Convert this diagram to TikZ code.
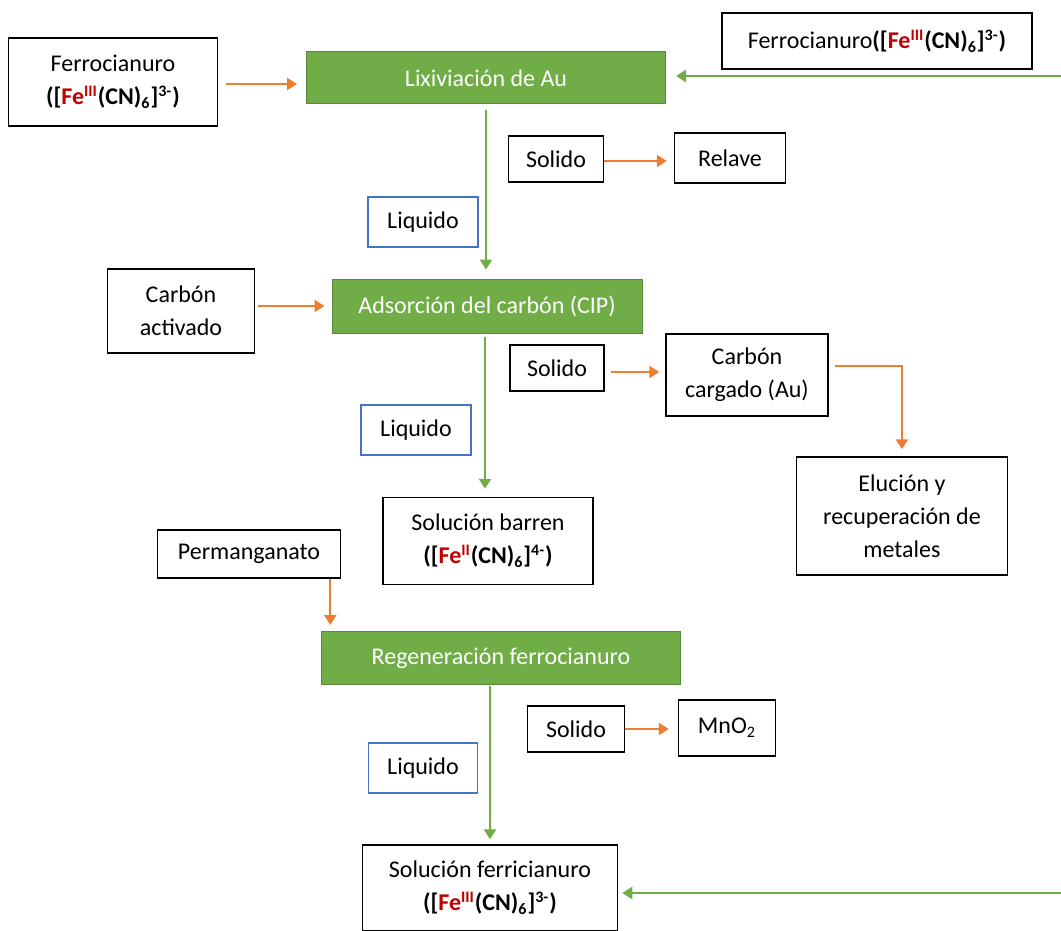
\documentclass[tikz,border=0pt]{standalone}
\usepackage{fontspec}
\setmainfont{Carlito}
\usepackage{tikz}
\usepackage{xcolor}
\usetikzlibrary{arrows.meta,positioning,calc}
\definecolor{procgreen}{HTML}{70AD47}
\definecolor{feedorange}{HTML}{ED7D31}
\definecolor{liqblue}{HTML}{4472C4}
\definecolor{fered}{HTML}{C00000}
\newcommand{\fecn}[2]{\textbf{([\textcolor{fered}{Fe\textsuperscript{#1}}(CN)\textsubscript{6}]\textsuperscript{#2})}}
\tikzset{
  stagecard/.style={
    draw=procgreen!80!black, fill=procgreen, line width=0.5pt,
    text=white, align=center, inner sep=0pt
  },
  notecard/.style={
    draw=black, fill=white, line width=0.75pt,
    align=center, inner sep=0pt
  },
  liquidcard/.style={
    draw=liqblue, fill=white, line width=0.6pt,
    align=center, inner sep=0pt
  },
  greenflow/.style={draw=procgreen, line width=1.3pt, -{Triangle[length=5pt,width=6pt]}},
  orangeflow/.style={draw=feedorange, line width=1.2pt, -{Triangle[length=5pt,width=6pt]}}
}

\begin{document}
\begin{tikzpicture}[x=0.5pt,y=-0.5pt,font=\fontsize{12}{16.5}\selectfont]
  \useasboundingbox (0,0) rectangle (1061,931);

  % main line
  \node[stagecard,minimum width=179.5pt,minimum height=26pt] (lix) at (486,78) {Lixiviación de Au};
  \node[stagecard,minimum width=155pt,minimum height=27pt] (ads) at (487,306) {Adsorción del carbón (CIP)};
  \node[notecard,minimum width=105pt,minimum height=43.5pt] (barren) at (488,541) {Solución barren\\\fecn{II}{4-}};
  \node[stagecard,minimum width=179.5pt,minimum height=26.5pt] (regen) at (501,658) {Regeneración ferrocianuro};
  \node[notecard,minimum width=127.5pt,minimum height=43pt] (ferri) at (490,888) {Solución ferricianuro\\\fecn{III}{3-}};

  % feeds
  \node[notecard,minimum width=104.5pt,minimum height=44pt] (feedL) at (113,82) {Ferrocianuro\\\fecn{III}{3-}};
  \node[notecard,minimum width=155pt,minimum height=28pt] (feedR) at (877,41) {Ferrocianuro\fecn{III}{3-}};
  \node[notecard,minimum width=73.5pt,minimum height=42pt] (activ) at (181,311) {Carbón\\activado};
  \node[notecard,minimum width=91.5pt,minimum height=24pt] (perm) at (249,554) {Permanganato};

  % side streams
  \node[notecard,minimum width=47.5pt,minimum height=23pt] (sol1) at (556,159) {Solido};
  \node[notecard,minimum width=55.5pt,minimum height=25pt] (relave) at (730,158) {Relave};
  \node[liquidcard,minimum width=55pt,minimum height=25pt] (liq1) at (423,222) {Liquido};
  \node[notecard,minimum width=47pt,minimum height=23pt] (sol2) at (557,368) {Solido};
  \node[notecard,minimum width=81pt,minimum height=41pt] (carg) at (747,375) {Carbón\\cargado (Au)};
  \node[notecard,minimum width=105.5pt,minimum height=59pt] (elu) at (902,516) {Elución y\\recuperación de\\metales};
  \node[liquidcard,minimum width=55pt,minimum height=25pt] (liq2) at (416,430) {Liquido};
  \node[notecard,minimum width=48.5pt,minimum height=23pt] (sol3) at (576,729) {Solido};
  \node[notecard,minimum width=48.5pt,minimum height=28pt] (mno) at (727,728) {MnO\textsubscript{2}};
  \node[liquidcard,minimum width=54.5pt,minimum height=25pt] (liq3) at (423,768) {Liquido};

  \coordinate (inR) at (1061,76);
  \coordinate (backR) at (1061,893);

  % connectors
  \draw[greenflow,shorten <=3pt,shorten >=4.5pt] (lix.south) -- (lix.south |- ads.north);
  \draw[greenflow,shorten <=1.5pt,shorten >=4pt] ([xshift=-1pt]ads.south) -- ([xshift=-1pt]ads.south |- barren.north);
  \draw[greenflow,shorten <=0.5pt,shorten >=2.5pt] (ferri.north |- regen.south) -- (ferri.north);
  \draw[greenflow,shorten >=5pt] (inR) -- (inR -| lix.east);
  \draw[greenflow,shorten >=2pt] (backR) -- (backR -| ferri.east);

  \draw[orangeflow,shorten <=4pt,shorten >=4.5pt] ([yshift=-1pt]feedL.east) -- ([yshift=-1pt]feedL.east -| lix.west);
  \draw[orangeflow,shorten <=1.5pt,shorten >=3.5pt] (ads.west -| activ.east) -- (ads.west);
  \draw[orangeflow,shorten >=3.5pt] ([yshift=-1pt]sol1.east) -- ([yshift=-1pt]sol1.east -| relave.west);
  \draw[orangeflow,shorten <=3pt,shorten >=3pt] ([yshift=-2pt]sol2.east) -- ([yshift=-2pt]sol2.east -| carg.west);
  \draw[orangeflow,shorten <=3pt,shorten >=3.5pt] ([yshift=4.5pt]carg.east) -| (elu.north);
  \draw[orangeflow,shorten >=3pt] ([xshift=-5.5pt]perm.south east) -- ([xshift=-5.5pt]perm.south east |- regen.north);
  \draw[orangeflow,shorten >=4.5pt] (sol3.east) -- (sol3.east -| mno.west);
\end{tikzpicture}
\end{document}
